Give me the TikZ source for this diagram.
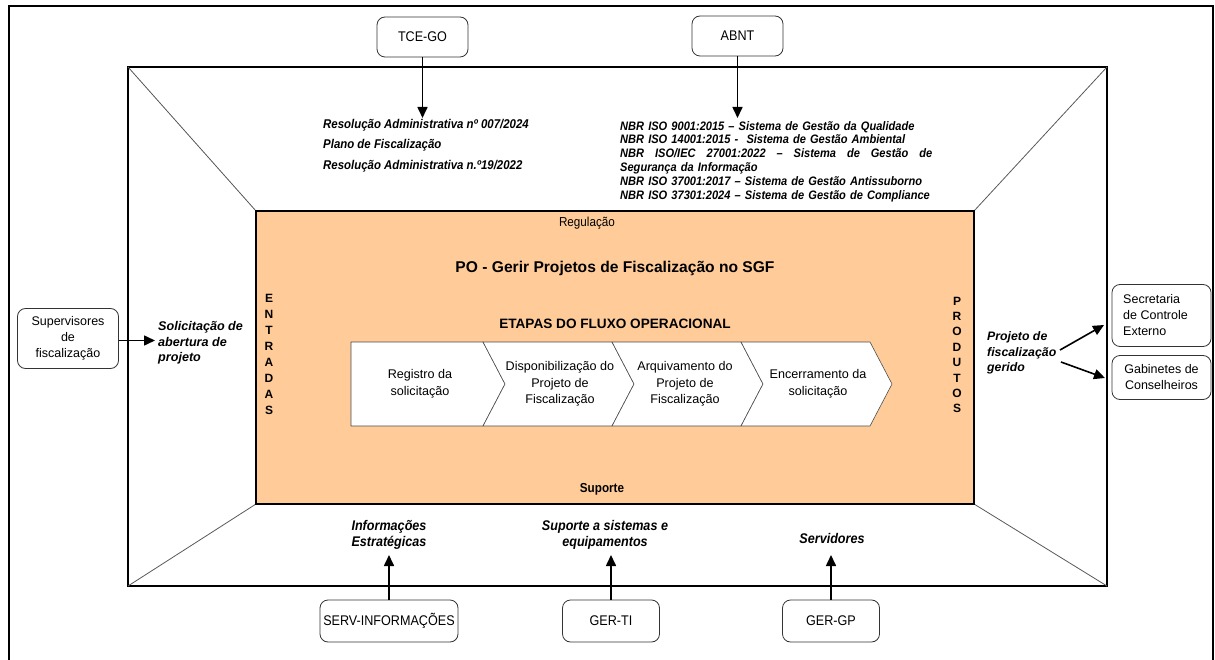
\documentclass[tikz,border=0pt]{standalone}
\usepackage{fontspec}
\setmainfont{Liberation Sans}
\newfontfamily\nar[FakeStretch=0.9]{Liberation Sans}
\usetikzlibrary{arrows.meta}
\newcommand{\fsz}[2]{\fontsize{#1}{#2}\selectfont}
\definecolor{orng}{RGB}{255,204,153}
\begin{document}
\begin{tikzpicture}[x=1pt,y=-1pt,
  rbox/.style={draw=black!80, line width=0.8pt, rounded corners=8pt, align=center, inner sep=0pt, font=\fsz{12.5}{16}},
  nbox/.style={rbox, font=\nar\fsz{14}{16}},
  arr/.style={line width=1.6pt, -{Triangle[length=11pt,width=10pt]}},
  framel/.style={line width=2.4pt},
  diag/.style={line width=0.8pt, black!65},
  chev/.style={draw=black!70, line width=0.6pt, fill=white},
  chtext/.style={align=center, font=\fsz{12.6}{16.5}, inner sep=0pt},
  bi/.style={font=\bfseries\itshape\fsz{12.6}{15.5}, inner sep=0pt},
  nbi/.style={font=\nar\bfseries\itshape\fsz{14}{16}, inner sep=0pt, align=center},
  vlet/.style={font=\bfseries\fsz{12}{16}, align=center, inner sep=0pt}
]
\useasboundingbox (0,0) rectangle (1215,660);
\fill[white] (0,0) rectangle (1215,660);
% outer frame
\draw[framel] (9,662) -- (9,6) -- (1213,6) -- (1213,662);
% big rectangle
\draw[framel] (128,67) rectangle (1107,586);
\draw[diag] (128,67) -- (256,211);
\draw[diag] (1107,67) -- (974,211);
\draw[diag] (128,586) -- (256,504);
\draw[diag] (1107,586) -- (974,504);
% orange
\draw[line width=1.6pt, fill=orng] (256,211) rectangle (974,504);
% chevrons
\draw[chev] (351,342) -- (483,342) -- (505,384) -- (483,426) -- (351,426) -- cycle;
\draw[chev] (483,342) -- (612,342) -- (634,384) -- (612,426) -- (483,426) -- (505,384) -- cycle;
\draw[chev] (612,342) -- (741,342) -- (763,384) -- (741,426) -- (612,426) -- (634,384) -- cycle;
\draw[chev] (741,342) -- (870,342) -- (892,384) -- (870,426) -- (741,426) -- (763,384) -- cycle;
\node[chtext] (c1) at (420,384) {Registro da\\solicitação};
\node[chtext] (c2) at (560,384) {Disponibilização do\\Projeto de\\Fiscalização};
\node[chtext] (c3) at (685,384) {Arquivamento do\\Projeto de\\Fiscalização};
\node[chtext] (c4) at (818,384) {Encerramento da\\solicitação};
% orange texts
\node[font=\nar\fsz{13}{15}, inner sep=0pt] (reg) at (587,223) {Regulação};
\node[font=\nar\bfseries\fsz{13}{15}, inner sep=0pt] (sup) at (602,489) {Suporte};
\node[font=\bfseries\fsz{15.6}{18}, inner sep=0pt] (title) at (615,268) {PO - Gerir Projetos de Fiscalização no SGF};
\node[font=\bfseries\fsz{13.6}{16}, inner sep=0pt] (etapas) at (615,324) {ETAPAS DO FLUXO OPERACIONAL};
\node[vlet] (ent) at (269,354) {E\\N\\T\\R\\A\\D\\A\\S};
\node[vlet, font=\bfseries\fsz{12}{15.4}] (prod) at (957,355) {P\\R\\O\\D\\U\\T\\O\\S};
% top boxes
\node[nbox, minimum width=91pt, minimum height=40pt] (tce) at (422.5,37) {TCE-GO};
\node[nbox, minimum width=91pt, minimum height=40pt] (abnt) at (737.5,36) {ABNT};
\coordinate (tceend) at (422.5,118);
\coordinate (abntend) at (737.5,118);
\draw[arr] (tce) -- (tceend);
\draw[arr] (abnt) -- (abntend);
\node[font=\nar\bfseries\itshape\fsz{12.7}{20.5}, align=left, anchor=west, inner sep=0pt] (tcetxt) at (323,145.5)
  {Resolução Administrativa nº 007/2024\\Plano de Fiscalização\\Resolução Administrativa n.º19/2022};
\node[font=\nar\bfseries\itshape\fsz{12.3}{13.8}, align=left, anchor=west, inner sep=0pt, text width=313pt] (abnttxt) at (620,161.5)
  {NBR ISO 9001:2015 – Sistema de Gestão da Qualidade\\
   NBR ISO 14001:2015 -\ \ Sistema de Gestão Ambiental\\
   \makebox[312pt][l]{NBR\hfill ISO/IEC\hfill 27001:2022\hfill –\hfill Sistema\hfill de\hfill Gestão\hfill de}\\
   Segurança da Informação\\
   NBR ISO 37001:2017 – Sistema de Gestão Antissuborno\\
   NBR ISO 37301:2024 – Sistema de Gestão de Compliance};
% left
\node[rbox, minimum width=101pt, minimum height=60pt] (supv) at (68,338.5) {Supervisores\\de\\fiscalização};
\coordinate (supend) at (155,340.5);
\draw[arr] (supv.east |- supend) -- (supend);
\node[bi, align=left, anchor=west] (sol) at (158,343) {Solicitação de\\abertura de\\projeto};
% right
\node[bi, font=\bfseries\itshape\fsz{12.3}{15.5}, align=left, anchor=west] (proj) at (987,353) {Projeto de\\fiscalização\\gerido};
\node[rbox, minimum width=99pt, minimum height=62pt] (sec) at (1161.5,315.5) {};
\node[font=\fsz{12.5}{16}, align=left, anchor=west, inner sep=0pt] (sectxt) at (1123,315.5) {Secretaria\\de Controle\\Externo};
\node[rbox, minimum width=99pt, minimum height=44pt] (gab) at (1161.5,377.5) {Gabinetes de\\Conselheiros};
\coordinate (p1s) at (1060,350);
\coordinate (p1e) at (1104,325);
\coordinate (p2s) at (1061,362);
\coordinate (p2e) at (1105,378);
\draw[arr] (p1s) -- (p1e);
\draw[arr] (p2s) -- (p2e);
% bottom
\node[nbi] (inf) at (389,535) {Informações\\Estratégicas};
\node[nbi] (sis) at (605,535) {Suporte a sistemas e\\equipamentos};
\node[nbi] (serv) at (832,538) {Servidores};
\node[nbox, minimum width=138pt, minimum height=42pt] (servinf) at (389,621) {SERV-INFORMAÇÕES};
\node[nbox, minimum width=97pt, minimum height=42pt] (gerti) at (611,621) {GER-TI};
\node[nbox, minimum width=97pt, minimum height=42pt] (gergp) at (831,621) {GER-GP};
\coordinate (a1) at (389,555);
\coordinate (a2) at (611,555);
\coordinate (a3) at (831,555);
\draw[arr] (servinf) -- (a1);
\draw[arr] (gerti) -- (a2);
\draw[arr] (gergp) -- (a3);
\end{tikzpicture}
\end{document}
